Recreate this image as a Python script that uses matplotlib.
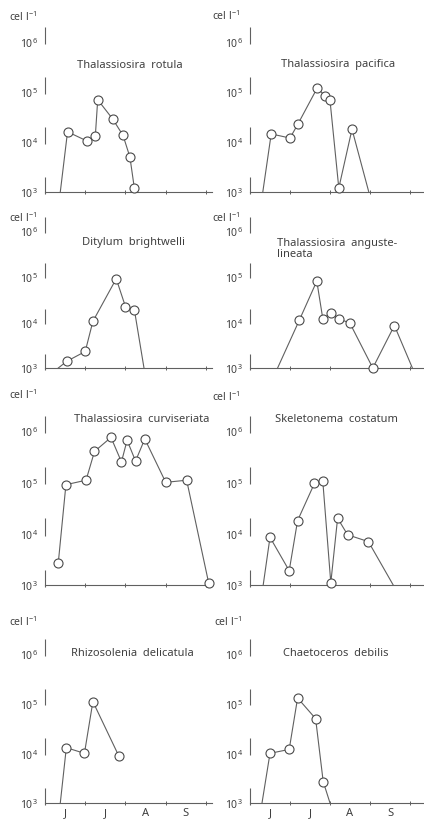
import numpy as np
import matplotlib
matplotlib.use("Agg")
import matplotlib.pyplot as plt

W, H = 424, 820

# ---- data (month index: 0 = 1 June, 1 = 1 July, ...) ; 0 = not detected ----
titles = ["Thalassiosira  rotula", "Thalassiosira  pacifica",
          "Ditylum  brightwelli", "Thalassiosira  anguste-\nlineata",
          "Thalassiosira  curviseriata", "Skeletonema  costatum",
          "Rhizosolenia  delicatula", "Chaetoceros  debilis"]

rotula_t = [0.38, 0.56, 1.04, 1.25, 1.31, 1.68, 1.94, 2.11, 2.22]
rotula_v = [0, 1.6e4, 1.05e4, 1.3e4, 7e4, 2.9e4, 1.35e4, 5e3, 1.2e3]

pacifica_t = [0.32, 0.53, 1.0, 1.2, 1.68, 1.87, 2.0, 2.22, 2.55, 2.97]
pacifica_v = [0, 1.45e4, 1.2e4, 2.3e4, 1.2e5, 8.5e4, 6.8e4, 1.2e3, 1.8e4, 0]

ditylum_t = [0.33, 0.54, 1.0, 1.19, 1.77, 2.0, 2.22, 2.46]
ditylum_v = [0, 1.4e3, 2.3e3, 1.05e4, 9e4, 2.2e4, 1.9e4, 0]

angust_t = [0.69, 1.23, 1.67, 1.82, 2.03, 2.23, 2.5, 3.07, 3.61, 4.06]
angust_v = [0, 1.1e4, 8e4, 1.2e4, 1.6e4, 1.2e4, 9.5e3, 1e3, 8.5e3, 0]

curvi_t = [0.33, 0.52, 1.02, 1.23, 1.64, 1.9, 2.04, 2.25, 2.48, 3.0, 3.52, 4.07]
curvi_v = [2.7e3, 9e4, 1.1e5, 4e5, 7.5e5, 2.5e5, 6.6e5, 2.6e5, 7e5, 1e5, 1.1e5, 1.07e3]

skelet_t = [0.33, 0.5, 0.98, 1.19, 1.61, 1.82, 2.02, 2.19, 2.44, 2.96, 3.58]
skelet_v = [0, 8.5e3, 1.9e3, 1.8e4, 9.5e4, 1.05e5, 1.1e3, 2e4, 9.5e3, 7e3, 0]

rhizo_t = [0.38, 0.53, 0.98, 1.19, 1.83]
rhizo_v = [0, 1.3e4, 1e4, 1.1e5, 9e3]

chaeto_t = [0.3, 0.5, 0.98, 1.19, 1.64, 1.83, 2.0]
chaeto_v = [0, 1e4, 1.2e4, 1.3e5, 5e4, 2.7e3, 0]

series = [(rotula_t, rotula_v), (pacifica_t, pacifica_v),
          (ditylum_t, ditylum_v), (angust_t, angust_v),
          (curvi_t, curvi_v), (skelet_t, skelet_v),
          (rhizo_t, rhizo_v), (chaeto_t, chaeto_v)]

month_labels = ["J", "J", "A", "S"]
decades = [1e3, 1e4, 1e5, 1e6]
decade_labels = ["$10^{3}$", "$10^{4}$", "$10^{5}$", "$10^{6}$"]
unit = "cel l$^{-1}$"

# ---- layout (pixels, top-origin) ----
rows = [(43, 193), (232, 369), (432, 586), (655, 804)]
cols = [(45, 212, 4.15), (250, 424, 4.35)]
title_pos = [[(130, 65, "center"), (338, 65, "center")],
             [(133, 243, "center"), (277, 249, "left")],
             [(142, 420, "center"), (336, 420, "center")],
             [(132, 653, "center"), (336, 653, "center")]]
unit_pos = [[(9, 17), (212, 16)], [(9, 218), (212, 218)],
            [(9, 395), (212, 397)], [(9, 622), (214, 622)]]

LINE = "#606060"
TXT = "#404040"
FONT = ["Noto Sans", "DejaVu Sans"]
plt.rcParams["font.family"] = FONT
plt.rcParams["mathtext.fontset"] = "custom"
plt.rcParams["mathtext.rm"] = "Noto Sans"
plt.rcParams["mathtext.it"] = "Noto Sans"

fig = plt.figure(figsize=(W / 100, H / 100), dpi=100)
fig.patch.set_facecolor("white")

def fx(x):
    return x / W

def fy(y):
    return 1 - y / H

for r, (top, bot) in enumerate(rows):
    for c, (x0, x1, xmax) in enumerate(cols):
        i = r * 2 + c
        ax = fig.add_axes([fx(x0), fy(bot), fx(x1) - fx(x0), (bot - top) / H])
        ax.set_facecolor("none")
        ax.set_yscale("log")
        ax.set_ylim(1e3, 1e6)
        ax.set_xlim(0, xmax)
        for s in ["top", "right", "left"]:
            ax.spines[s].set_visible(False)
        ax.spines["bottom"].set_color(LINE)
        ax.spines["bottom"].set_linewidth(0.8)
        ax.set_yticks(decades)
        ax.set_yticklabels(decade_labels)
        ax.yaxis.set_minor_locator(matplotlib.ticker.NullLocator())
        ax.tick_params(axis="y", length=0, pad=5, labelsize=7.5, labelcolor=TXT)
        # broken left axis fragments near each decade
        for d in decades:
            ax.plot([0, 0], [d * 0.92, d * 10 ** 0.3], color=LINE, lw=0.8,
                    clip_on=False, solid_capstyle="butt")
        ax.set_xticks([1, 2, 3, 4])
        ax.tick_params(axis="x", which="major", direction="inout", length=3,
                       width=0.7, color=LINE, labelbottom=False)
        if r == 3:
            ax.set_xticks([0.5, 1.5, 2.5, 3.5], minor=True)
            ax.set_xticklabels(month_labels, minor=True)
            ax.tick_params(axis="x", which="minor", length=0, pad=3,
                           labelsize=8, labelcolor=TXT)

        t, v = series[i]
        t = np.asarray(t, float)
        v = np.asarray(v, float)
        vp = np.where(v > 0, v, 1e3)
        ax.plot(t, vp, color=LINE, lw=0.8, clip_on=False, zorder=2)
        m = v > 0
        ax.plot(t[m], v[m], "o", ms=6.5, mfc="white", mec="#4a4a4a",
                mew=0.8, clip_on=False, zorder=3)

        tx, ty, ha = title_pos[r][c]
        fig.text(fx(tx), fy(ty), titles[i], ha=ha, va="center", fontsize=8,
                 color=TXT, linespacing=1.1)
        ux, uy = unit_pos[r][c]
        fig.text(fx(ux), fy(uy), unit, ha="left", va="center", fontsize=7.5,
                 color=TXT)

fig.savefig("out.png", dpi=100, facecolor="white")
